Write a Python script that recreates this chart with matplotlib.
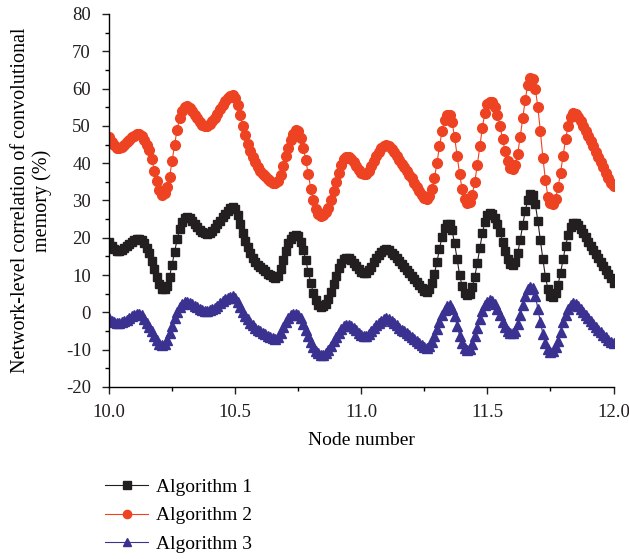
import numpy as np
import matplotlib
matplotlib.use("Agg")
import matplotlib.pyplot as plt
from matplotlib.ticker import MultipleLocator

# node number axis, one reading every 0.01
node = np.round(np.arange(10.0, 12.0001, 0.01), 2)

algo2 = [
    47.0, 45.8, 44.8, 44.2, 44.0, 44.3, 44.9, 45.6, 46.3, 46.9,
    47.4, 47.7, 47.7, 47.2, 46.3, 45.0, 43.6, 41.0, 38.0, 35.2,
    32.8, 31.6, 32.0, 33.5, 36.3, 40.5, 45.0, 49.0, 52.0, 54.0,
    55.0, 55.2, 54.8, 54.0, 53.0, 52.0, 51.0, 50.3, 50.0, 50.0,
    50.4, 51.2, 52.2, 53.3, 54.5, 55.6, 56.6, 57.4, 58.0, 58.2,
    57.5, 55.5, 52.8, 50.0, 47.5, 45.2, 43.3, 41.6, 40.2, 39.0,
    38.0, 37.2, 36.5, 35.8, 35.2, 34.8, 34.6, 35.2, 36.8, 39.2,
    41.8, 44.2, 46.3, 47.8, 48.8, 48.5, 46.8, 44.2, 40.8, 37.0,
    33.2, 30.0, 27.8, 26.5, 25.9, 26.0, 26.8, 28.0, 30.0, 32.5,
    35.0, 37.5, 39.5, 41.0, 41.7, 41.6, 41.0, 40.2, 39.2, 38.2,
    37.4, 37.0, 37.2, 38.0, 39.2, 40.5, 41.8, 43.0, 44.0, 44.6,
    44.8, 44.5, 43.8, 42.9, 41.9, 40.9, 39.9, 38.9, 37.9, 36.9,
    35.9, 34.8, 33.7, 32.6, 31.5, 30.6, 30.3, 31.2, 33.0, 36.0,
    40.0, 44.5, 48.5, 51.5, 53.0, 53.0, 51.0, 47.0, 42.0, 37.0,
    33.0, 30.3, 29.3, 29.5, 31.5, 35.0, 39.5, 44.5, 49.5, 53.5,
    55.8, 56.5, 56.3, 55.0, 53.0, 50.0, 46.5, 43.2, 40.5, 38.8,
    38.4, 39.5, 42.5, 47.0, 52.0, 57.0, 61.0, 62.8, 62.5, 60.0,
    55.0, 48.5, 41.5, 35.5, 31.0, 29.3, 29.0, 30.5, 33.5, 37.5,
    42.0, 46.5, 50.0, 52.5, 53.4, 53.2, 52.3, 51.2, 50.0, 48.7,
    47.3, 45.9, 44.5, 43.1, 41.7, 40.3, 38.9, 37.5, 36.1, 34.8,
    33.8,
]

algo1 = [
    19.0, 17.8, 17.0, 16.5, 16.4, 16.7, 17.2, 17.8, 18.4, 18.9,
    19.4, 19.7, 19.8, 19.4, 18.5, 17.2, 15.8, 13.8, 11.6, 9.6,
    7.6, 6.3, 6.2, 7.2, 9.6, 12.8, 16.2, 19.6, 22.4, 24.3,
    25.2, 25.5, 25.2, 24.5, 23.7, 22.9, 22.2, 21.6, 21.2, 21.1,
    21.3, 21.9, 22.7, 23.6, 24.6, 25.6, 26.5, 27.3, 27.9, 28.2,
    27.6, 26.0, 23.6, 21.3, 19.2, 17.4, 15.9, 14.6, 13.6, 12.8,
    12.1, 11.5, 11.0, 10.4, 9.9, 9.4, 9.2, 9.8, 11.6, 14.0,
    16.4, 18.5, 19.8, 20.5, 20.8, 20.4, 19.0, 16.8, 14.0, 10.8,
    7.8, 5.2, 3.2, 2.0, 1.5, 1.6, 2.3, 3.6, 5.4, 7.6,
    9.8, 11.8, 13.3, 14.2, 14.6, 14.5, 14.0, 13.3, 12.5, 11.7,
    10.9, 10.5, 10.6, 11.3, 12.3, 13.4, 14.5, 15.5, 16.3, 16.8,
    16.9, 16.6, 16.0, 15.3, 14.5, 13.7, 12.9, 12.1, 11.3, 10.5,
    9.7, 8.9, 8.1, 7.3, 6.5, 5.8, 5.6, 6.4, 8.0, 10.4,
    13.5, 17.0, 20.3, 22.6, 23.8, 23.8, 22.0, 18.5, 14.2, 10.0,
    7.0, 5.2, 4.6, 5.0, 6.8, 9.6, 13.2, 17.2, 21.2, 24.3,
    26.0, 26.6, 26.4, 25.4, 23.8, 21.6, 19.0, 16.5, 14.4, 13.1,
    12.8, 13.6, 15.8, 19.4, 23.4, 27.2, 30.2, 31.8, 31.5, 29.0,
    24.5, 19.4, 14.2, 9.6, 6.2, 4.5, 4.2, 5.2, 7.4, 10.6,
    14.2, 17.8, 20.8, 22.9, 23.9, 24.0, 23.3, 22.3, 21.2, 20.1,
    19.0, 17.9, 16.8, 15.7, 14.6, 13.5, 12.4, 11.3, 10.2, 9.1,
    8.0,
]

algo3 = [
    -1.6, -2.2, -2.6, -2.9, -2.9, -2.7, -2.4, -2.0, -1.5, -1.0,
    -0.6, -0.3, -0.3, -0.8, -1.7, -2.8, -3.8, -5.0, -6.3, -7.5,
    -8.4, -8.8, -8.5, -7.4, -5.6, -3.6, -1.6, 0.2, 1.5, 2.3,
    2.7, 2.8, 2.6, 2.2, 1.8, 1.4, 1.0, 0.7, 0.5, 0.5,
    0.6, 0.9, 1.3, 1.8, 2.4, 3.0, 3.5, 3.9, 4.2, 4.3,
    3.8, 2.8, 1.5, 0.2, -0.9, -1.9, -2.8, -3.5, -4.1, -4.6,
    -5.0, -5.4, -5.8, -6.2, -6.6, -6.9, -7.0, -6.6, -5.5, -4.0,
    -2.6, -1.5, -0.8, -0.4, -0.3, -0.6, -1.6, -3.0, -4.6, -6.3,
    -7.9, -9.3, -10.3, -11.0, -11.3, -11.3, -10.9, -10.1, -9.0, -7.8,
    -6.6, -5.4, -4.4, -3.7, -3.4, -3.4, -3.7, -4.2, -4.8, -5.4,
    -6.0, -6.4, -6.4, -5.9, -5.1, -4.3, -3.5, -2.8, -2.2, -1.8,
    -1.6, -1.8, -2.3, -2.9, -3.5, -4.1, -4.6, -5.1, -5.6, -6.1,
    -6.6, -7.1, -7.6, -8.2, -8.8, -9.3, -9.5, -9.0, -7.9, -6.3,
    -4.5, -2.6, -0.8, 0.6, 1.6, 1.9, 1.0, -1.0, -3.6, -6.2,
    -8.3, -9.6, -10.1, -9.8, -8.4, -6.4, -4.1, -1.8, 0.3, 1.9,
    2.9, 3.3, 3.1, 2.3, 0.9, -0.8, -2.5, -3.9, -4.9, -5.5,
    -5.6, -4.9, -3.2, -0.8, 1.9, 4.4, 6.2, 6.9, 6.5, 4.4,
    1.0, -2.6, -5.8, -8.2, -9.8, -10.5, -10.4, -9.4, -7.6, -5.2,
    -2.7, -0.6, 1.0, 2.0, 2.4, 2.3, 1.7, 1.0, 0.2, -0.6,
    -1.4, -2.2, -3.0, -3.8, -4.6, -5.3, -6.0, -6.7, -7.4, -7.9,
    -8.2,
]

labels = ["Algorithm 1", "Algorithm 2", "Algorithm 3"]

plt.rcParams["font.family"] = ["Liberation Serif", "DejaVu Serif"]
plt.rcParams["axes.unicode_minus"] = False

fig = plt.figure(figsize=(6.29, 5.59), dpi=100)
ax = fig.add_axes([0.1733, 0.3077, 0.8021, 0.6673])

ax.plot(node, algo1, "-s", color="#231f20", lw=0.8, ms=6.3, label=labels[0])
ax.plot(node, algo2, "-o", color="#ee4323", lw=0.8, ms=7.0, label=labels[1])
ax.plot(node, algo3, "-^", color="#3a3190", lw=0.8, ms=6.5, label=labels[2])

ax.set_xlim(10.0, 12.0)
ax.set_ylim(-20, 80)
ax.xaxis.set_major_locator(MultipleLocator(0.5))
ax.xaxis.set_minor_locator(MultipleLocator(0.25))
ax.yaxis.set_major_locator(MultipleLocator(10))
ax.yaxis.set_minor_locator(MultipleLocator(5))
ax.xaxis.set_major_formatter(plt.FuncFormatter(lambda v, p: f"{v:.1f}"))

for side in ("top", "right"):
    ax.spines[side].set_visible(False)
for side in ("left", "bottom"):
    ax.spines[side].set_linewidth(1.0)

ax.tick_params(which="major", direction="out", length=5, width=1.0,
               labelsize=13.5, colors="#231f20")
ax.tick_params(axis="y", which="major", pad=8)
ax.tick_params(axis="x", which="major", pad=7)
ax.tick_params(which="minor", direction="out", length=3, width=1.0)

ax.set_xlabel("Node number", fontsize=14, labelpad=8)
ax.set_ylabel("Network-level correlation of convolutional\nmemory (%)",
              fontsize=14.5, linespacing=1.15, labelpad=10)

fig.legend(loc="upper left", bbox_to_anchor=(0.155, 0.158), frameon=False,
           fontsize=14, handlelength=2.2, handletextpad=0.4,
           labelspacing=0.55, borderaxespad=0, markerscale=0.85)

fig.savefig("out.png", dpi=100)
